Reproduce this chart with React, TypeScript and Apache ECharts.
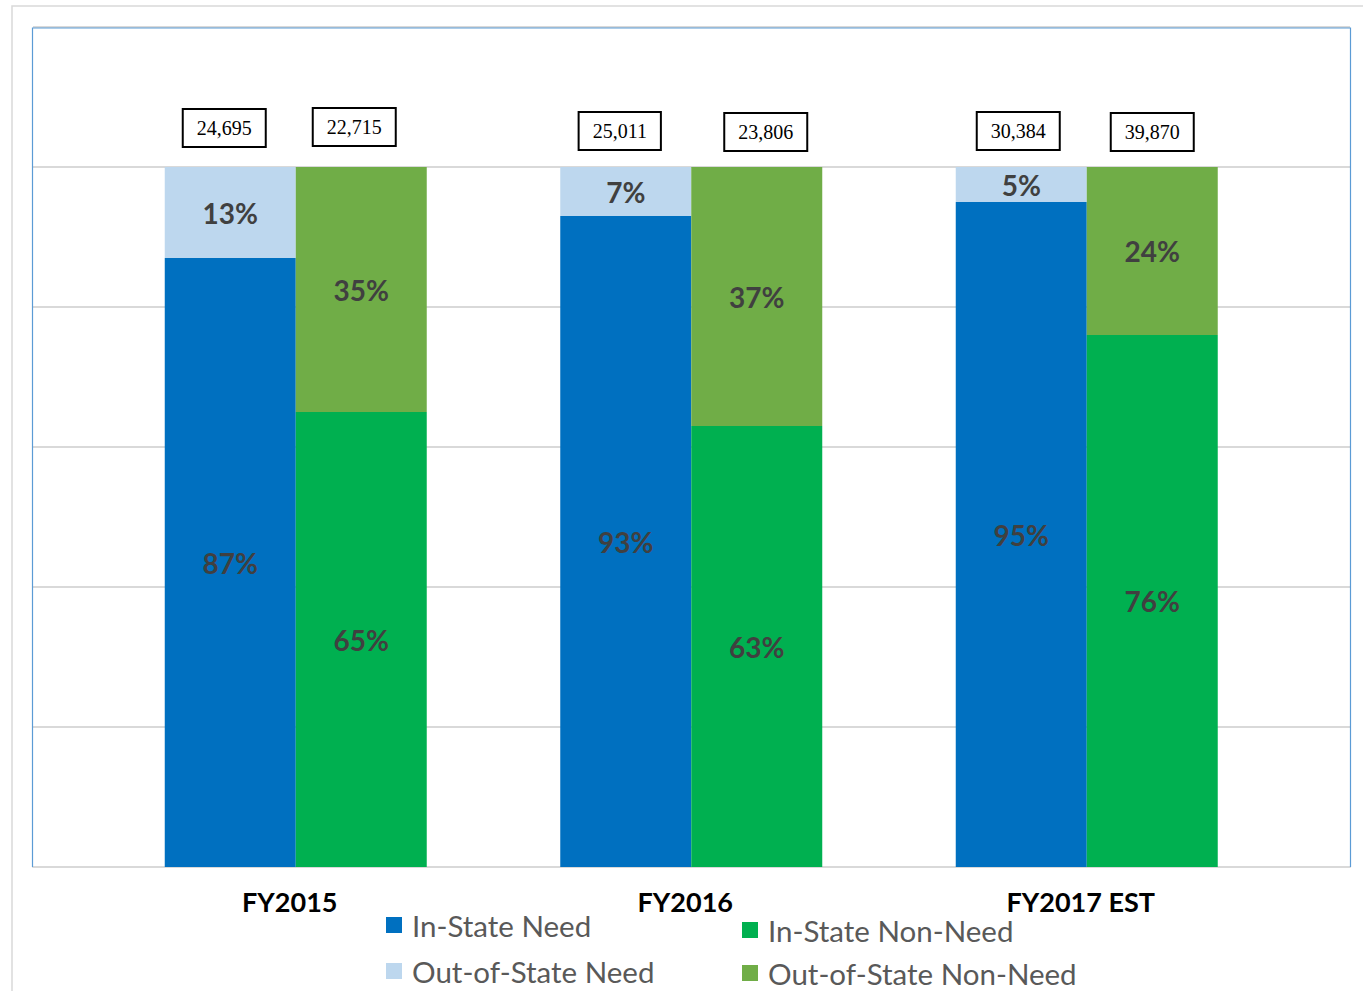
import React, { useEffect, useRef } from "react";
import * as echarts from "echarts";

const categories = ["FY2015", "FY2016", "FY2017 EST"];
const inStateNeed = [87, 93, 95];
const outStateNeed = [13, 7, 5];
const inStateNonNeed = [65, 63, 76];
const outStateNonNeed = [35, 37, 24];
const needTotals = [24695, 25011, 30384];
const nonNeedTotals = [22715, 23806, 39870];

const yTicks = [0, 20, 40, 60, 80, 100, 120];

// layout nudges for the hand-placed total boxes (not data)
const needBoxNudge = [[-6, -21], [-6, -18], [-3, -18]];
const nonNeedBoxNudge = [[-7, -22], [9, -17], [0, -17]];

const COLORS = {
  inNeed: "#0070C0",
  outNeed: "#BDD7EE",
  inNon: "#00B050",
  outNon: "#70AD47",
};

const pctLabel = {
  show: true,
  position: "inside",
  formatter: (p: any) => `${p.value}%`,
  fontFamily: "Lato",
  fontWeight: "bold",
  fontSize: 28,
  color: "#404040",
};

const boxLabel = (totals: number[]) => ({
  show: true,
  position: "top",
  distance: 0,
  formatter: (p: any) => totals[p.dataIndex].toLocaleString("en-US"),
  fontFamily: "Liberation Serif",
  fontSize: 20,
  lineHeight: 20,
  color: "#000",
  backgroundColor: "#fff",
  borderColor: "#000",
  borderWidth: 2,
  padding: [8, 13],
});

const legendText = { fontFamily: "Lato", fontSize: 29.5, color: "#595959", padding: [0, 0, 0, 5] };

export default function App() {
  const ref = useRef<HTMLDivElement>(null);
  useEffect(() => {
    if (!ref.current) return;
    const chart = echarts.init(ref.current, undefined, { renderer: "svg" });
    const barW = 131;
    chart.setOption({
      animation: false,
      backgroundColor: "#fff",
      grid: [
        { left: 33, top: 27, width: 1317, height: 840, containLabel: false },
        { left: 98, top: 27, width: 1186.5, height: 840, containLabel: false },
      ],
      xAxis: [
        {
          gridIndex: 0,
          type: "value",
          min: 0,
          max: 1,
          axisLine: { show: true, lineStyle: { color: "#d9d9d9", width: 2 } },
          axisTick: { show: false },
          axisLabel: { show: false },
          splitLine: { show: false },
        },
        {
          gridIndex: 1,
          type: "category",
          data: categories,
          axisLine: { show: false },
          axisTick: { show: false },
          splitLine: { show: false },
          axisLabel: {
            margin: 21,
            fontFamily: "Lato",
            fontWeight: "bold",
            fontSize: 27,
            color: "#000",
            padding: [0, 12, 0, 0],
          },
        },
      ],
      yAxis: [
        {
          gridIndex: 0,
          type: "value",
          min: yTicks[0],
          max: yTicks[yTicks.length - 1],
          interval: yTicks[1] - yTicks[0],
          axisLine: { show: false },
          axisTick: { show: false },
          axisLabel: { show: false },
          splitLine: { show: true, lineStyle: { color: "#d9d9d9", width: 2 } },
        },
        {
          gridIndex: 1,
          type: "value",
          min: yTicks[0],
          max: yTicks[yTicks.length - 1],
          interval: yTicks[1] - yTicks[0],
          show: false,
        },
      ],
      legend: [
        {
          orient: "vertical",
          left: 386,
          top: 910,
          width: 340,
          height: 200,
          padding: 0,
          itemGap: 16,
          itemWidth: 16,
          itemHeight: 16,
          icon: "rect",
          data: ["In-State Need", "Out-of-State Need"],
          textStyle: legendText,
        },
        {
          orient: "vertical",
          left: 742,
          top: 915,
          width: 400,
          height: 200,
          padding: 0,
          itemGap: 13,
          itemWidth: 16,
          itemHeight: 16,
          icon: "rect",
          data: ["In-State Non-Need", "Out-of-State Non-Need"],
          textStyle: legendText,
        },
      ],
      series: [
        {
          name: "In-State Need",
          type: "bar",
          xAxisIndex: 1,
          yAxisIndex: 1,
          stack: "need",
          barWidth: barW,
          barGap: "0%",
          itemStyle: { color: COLORS.inNeed },
          label: pctLabel,
          data: inStateNeed,
        },
        {
          name: "Out-of-State Need",
          type: "bar",
          xAxisIndex: 1,
          yAxisIndex: 1,
          stack: "need",
          barWidth: barW,
          barGap: "0%",
          itemStyle: { color: COLORS.outNeed },
          label: pctLabel,
          data: outStateNeed,
        },
        {
          name: "needTotal",
          type: "bar",
          xAxisIndex: 1,
          yAxisIndex: 1,
          stack: "need",
          barWidth: barW,
          barGap: "0%",
          itemStyle: { color: "rgba(0,0,0,0)" },
          label: boxLabel(needTotals),
          data: needTotals.map((_, i) => ({ value: 0, label: { offset: needBoxNudge[i] } })),
        },
        {
          name: "In-State Non-Need",
          type: "bar",
          xAxisIndex: 1,
          yAxisIndex: 1,
          stack: "non",
          barWidth: barW,
          barGap: "0%",
          itemStyle: { color: COLORS.inNon },
          label: pctLabel,
          data: inStateNonNeed,
        },
        {
          name: "Out-of-State Non-Need",
          type: "bar",
          xAxisIndex: 1,
          yAxisIndex: 1,
          stack: "non",
          barWidth: barW,
          barGap: "0%",
          itemStyle: { color: COLORS.outNon },
          label: pctLabel,
          data: outStateNonNeed,
        },
        {
          name: "nonNeedTotal",
          type: "bar",
          xAxisIndex: 1,
          yAxisIndex: 1,
          stack: "non",
          barWidth: barW,
          barGap: "0%",
          itemStyle: { color: "rgba(0,0,0,0)" },
          label: boxLabel(nonNeedTotals),
          data: nonNeedTotals.map((_, i) => ({ value: 0, label: { offset: nonNeedBoxNudge[i] } })),
        },
      ],
      graphic: [
        {
          type: "rect",
          z: -10,
          silent: true,
          shape: { x: 12, y: 6, width: 1400, height: 1010 },
          style: { fill: "none", stroke: "#d9d9d9", lineWidth: 1.5 },
        },
        {
          type: "polyline",
          z: 100,
          silent: true,
          shape: { points: [[32.5, 867], [32.5, 28], [1350.5, 28], [1350.5, 867]] },
          style: { fill: "none", stroke: "#5B9BD5", lineWidth: 1.2 },
        },
      ],
    });
    return () => chart.dispose();
  }, []);
  return (
    <div
      ref={ref}
      style={{ position: "absolute", left: 0, top: 0, width: 1363, height: 991 }}
    />
  );
}
